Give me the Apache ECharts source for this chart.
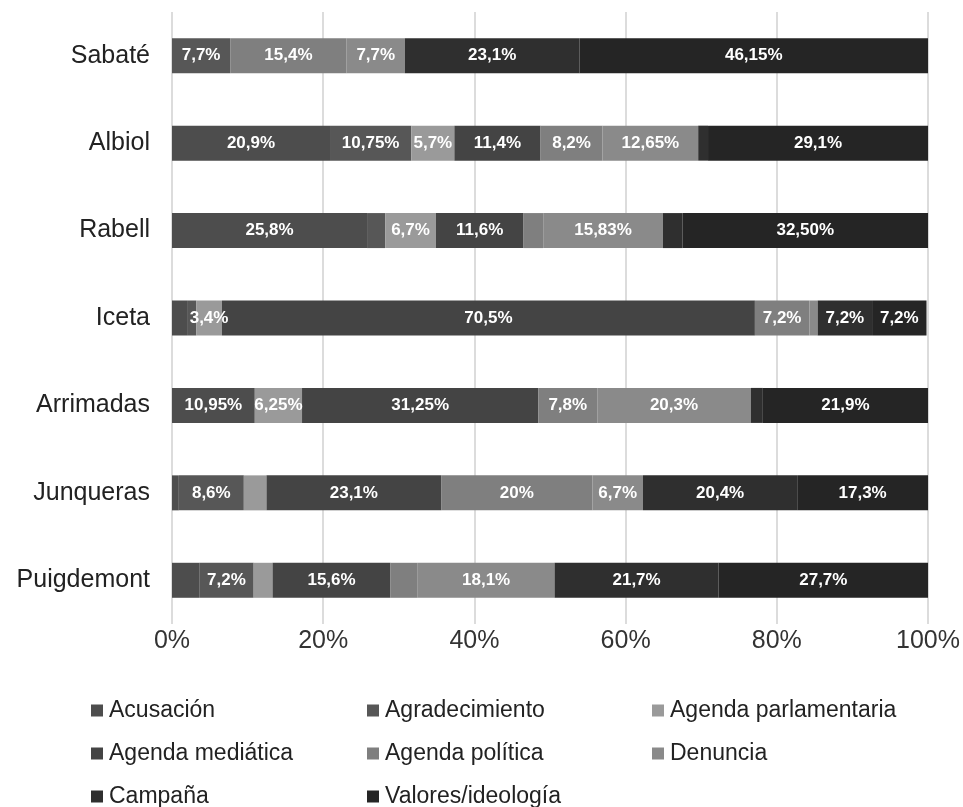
<!DOCTYPE html>
<html>
<head>
<meta charset="utf-8">
<script src="https://cdn.jsdelivr.net/npm/echarts@6/dist/echarts.min.js"></script>
<style>html,body{margin:0;padding:0;background:#fff;}#c{width:963px;height:807px;}</style>
</head>
<body>
<div id="c"></div>
<script>
const categories = ['Puigdemont','Junqueras','Arrimadas','Iceta','Rabell','Albiol','Sabaté'];
const seriesNames = ['Acusación','Agradecimiento','Agenda parlamentaria','Agenda mediática','Agenda política','Denuncia','Campaña','Valores/ideología'];
const acusacion        = [3.6, 0.9, 10.95, 2.1, 25.8, 20.9, 0];
const agradecimiento   = [7.2, 8.6, 0, 1.1, 2.4, 10.75, 7.7];
const agendaParl       = [2.5, 3.0, 6.25, 3.4, 6.7, 5.7, 0];
const agendaMediatica  = [15.6, 23.1, 31.25, 70.5, 11.6, 11.4, 0];
const agendaPolitica   = [3.6, 20, 7.8, 7.2, 2.6, 8.2, 15.4];
const denuncia         = [18.1, 6.7, 20.3, 1.1, 15.83, 12.65, 7.7];
const campana          = [21.7, 20.4, 1.6, 7.2, 2.6, 1.3, 23.1];
const valores          = [27.7, 17.3, 21.9, 7.2, 32.5, 29.1, 46.15];

const lblAcusacion       = [null, null, '10,95%', null, '25,8%', '20,9%', null];
const lblAgradecimiento  = ['7,2%', '8,6%', null, null, null, '10,75%', '7,7%'];
const lblAgendaParl      = [null, null, '6,25%', '3,4%', '6,7%', '5,7%', null];
const lblAgendaMediatica = ['15,6%', '23,1%', '31,25%', '70,5%', '11,6%', '11,4%', null];
const lblAgendaPolitica  = [null, '20%', '7,8%', '7,2%', null, '8,2%', '15,4%'];
const lblDenuncia        = ['18,1%', '6,7%', '20,3%', null, '15,83%', '12,65%', '7,7%'];
const lblCampana         = ['21,7%', '20,4%', null, '7,2%', null, null, '23,1%'];
const lblValores         = ['27,7%', '17,3%', '21,9%', '7,2%', '32,50%', '29,1%', '46,15%'];
const xTicks = [0, 20, 40, 60, 80, 100];

const values = [acusacion, agradecimiento, agendaParl, agendaMediatica, agendaPolitica, denuncia, campana, valores];
const labels = [lblAcusacion, lblAgradecimiento, lblAgendaParl, lblAgendaMediatica, lblAgendaPolitica, lblDenuncia, lblCampana, lblValores];
const colors = ['#4d4d4d', '#575757', '#9a9a9a', '#444444', '#7f7f7f', '#8a8a8a', '#2f2f2f', '#252525'];

const FONT = 'Liberation Sans, Arial, sans-serif';
const series = seriesNames.map((name, i) => ({
  name: name,
  type: 'bar',
  stack: 'total',
  barWidth: 35,
  itemStyle: { color: colors[i] },
  label: {
    show: true,
    position: 'inside',
    color: '#fff',
    fontWeight: 'bold',
    fontSize: 17,
    fontFamily: FONT,
    formatter: p => labels[i][p.dataIndex] || ''
  },
  emphasis: { disabled: true },
  data: values[i]
}));

function legendCol(names, left) {
  return {
    data: names,
    orient: 'vertical',
    left: left,
    top: 694,
    height: 130,
    itemGap: 20,
    itemWidth: 12,
    itemHeight: 12,
    icon: 'rect',
    selectedMode: false,
    textStyle: { fontSize: 23, color: '#222', fontFamily: FONT, padding: [0, 0, 0, 1] }
  };
}

const chart = echarts.init(document.getElementById('c'));
chart.setOption({
  animation: false,
  grid: { left: 172, right: 34, top: 12, bottom: 183 },
  xAxis: {
    type: 'value',
    min: 0, max: 100, interval: 20,
    axisLine: { show: false },
    axisTick: { show: false },
    splitLine: { lineStyle: { color: '#d0d0d0', width: 1.5 } },
    axisLabel: { formatter: v => xTicks.includes(v) ? v + '%' : '', fontSize: 25, color: '#333', margin: 5, fontFamily: FONT }
  },
  yAxis: {
    type: 'category',
    data: categories,
    axisLine: { show: false },
    axisTick: { show: false },
    axisLabel: { fontSize: 25, color: '#222', margin: 22, fontFamily: FONT }
  },
  legend: [
    legendCol(['Acusación', 'Agenda mediática', 'Campaña'], 86),
    legendCol(['Agradecimiento', 'Agenda política', 'Valores/ideología'], 362),
    legendCol(['Agenda parlamentaria', 'Denuncia'], 647)
  ],
  series: series
});
</script>
</body>
</html>
